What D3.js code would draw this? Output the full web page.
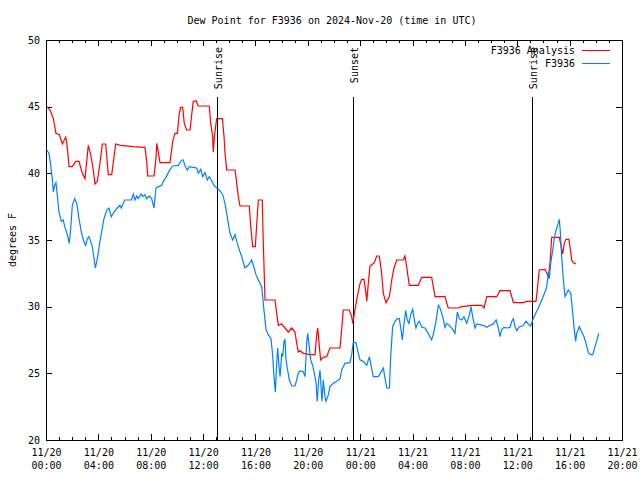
<!DOCTYPE html>
<html><head><meta charset="utf-8">
<script src="https://cdn.jsdelivr.net/npm/d3@7"></script>
<style>body{margin:0;background:#fff}svg{display:block}text{font-family:"DejaVu Sans Mono",monospace;font-size:10px;fill:#000}</style>
</head><body>
<script>
// Hours since 2024-11-20 00:00 UTC
const analysisHours = [0.05,0.31,0.56,0.76,1.02,1.25,1.50,1.58,1.76,2.01,2.27,2.52,2.77,2.98,3.11,3.23,3.41,3.61,3.74,3.92,4.12,4.30,4.56,4.76,5.02,5.32,5.71,6.67,7.56,7.69,7.77,8.25,8.40,8.46,8.71,9.47,9.68,9.85,10.03,10.18,10.29,10.44,10.56,10.75,11.0,11.13,11.25,11.46,11.63,12.47,12.58,12.73,12.78,12.86,12.99,13.04,13.47,13.60,13.67,13.80,14.44,14.57,14.69,14.82,15.53,15.64,15.79,15.99,16.10,16.22,16.52,16.60,16.73,17.49,17.62,17.75,18.0,18.51,18.77,19.02,19.15,19.27,19.40,19.66,20.17,20.55,20.68,20.76,20.88,20.98,21.18,21.44,21.69,22.46,22.59,22.71,23.17,23.35,23.43,23.60,23.78,23.99,24.12,24.29,24.44,24.50,24.62,24.75,24.96,25.08,25.26,25.46,25.64,25.77,25.97,26.23,26.41,26.58,26.79,27.29,27.42,27.55,27.75,28.44,28.70,29.46,29.72,30.48,30.66,30.73,31.50,31.75,32.52,33.28,33.46,33.67,34.43,34.68,35.45,35.70,36.46,36.72,37.43,37.53,37.68,38.12,38.37,38.50,38.63,39.21,39.34,39.47,39.59,39.72,39.95,40.16,40.28,40.49];
const analysisValues = [45.0,44.75,44.1,43.0,42.9,42.2,42.7,42.4,40.5,40.5,40.9,40.9,40.0,39.6,40.9,42.1,41.4,40.25,39.2,39.4,40.75,42.2,42.2,39.9,39.9,42.2,42.1,42.0,41.95,40.9,39.8,39.8,41.1,42.25,40.8,40.8,42.4,43.0,43.0,44.5,44.95,44.95,43.75,43.25,43.25,44.4,45.4,45.45,45.05,45.05,43.75,42.75,41.6,42.75,43.75,44.1,44.1,42.75,41.6,40.25,40.25,39.25,38.25,37.55,37.55,36.0,34.5,34.5,36.25,38.0,38.0,34.75,30.5,30.5,29.5,28.6,28.7,28.1,28.4,28.1,27.25,26.6,26.7,26.5,26.4,26.4,27.9,28.4,27.0,26.0,26.2,26.25,26.9,26.9,28.4,29.75,29.75,29.25,28.75,29.75,30.75,31.75,32.05,32.05,31.0,30.4,31.75,33.05,33.2,33.3,33.8,33.8,32.5,31.0,30.3,30.75,32.0,32.9,33.5,33.5,33.8,33.0,31.6,31.6,32.2,32.2,30.75,30.75,30.1,29.9,29.9,30.0,30.1,30.1,29.9,30.75,30.75,31.2,31.2,30.3,30.3,30.4,30.4,31.25,32.75,32.8,32.25,33.25,35.2,35.2,34.6,33.95,34.75,35.05,35.05,33.5,33.3,33.2];
const obsHours = [0.05,0.23,0.36,0.48,0.56,0.66,0.76,0.86,0.99,1.17,1.32,1.43,1.63,1.78,1.89,2.01,2.19,2.35,2.52,2.70,2.85,3.03,3.16,3.28,3.41,3.54,3.67,3.77,3.92,4.12,4.30,4.43,4.64,4.81,4.99,5.19,5.45,5.65,5.75,6.01,6.52,6.67,6.80,6.93,7.05,7.26,7.39,7.56,7.69,7.89,8.07,8.25,8.40,8.58,8.84,8.96,9.17,9.42,9.68,10.11,10.24,10.37,10.49,10.62,10.79,10.95,11.25,11.51,11.63,11.82,11.97,12.15,12.32,12.47,12.66,12.83,13.04,13.24,13.50,13.67,13.80,13.93,14.06,14.26,14.44,14.57,14.77,14.95,15.20,15.45,15.71,15.84,16.04,16.22,16.48,16.55,16.65,16.81,16.98,17.19,17.32,17.42,17.52,17.62,17.70,17.80,17.88,18.01,18.08,18.18,18.26,18.33,18.43,18.59,18.77,19.02,19.15,19.27,19.40,19.66,19.79,19.91,19.99,20.11,20.22,20.37,20.50,20.63,20.72,20.83,20.93,21.01,21.08,21.18,21.31,21.39,21.57,21.69,21.95,22.21,22.46,22.59,22.84,23.22,23.35,23.47,23.68,23.86,23.99,24.24,24.50,24.70,24.83,25.0,25.38,25.57,25.77,25.90,26.03,26.23,26.33,26.48,26.66,26.84,26.99,27.12,27.22,27.35,27.48,27.60,27.73,27.86,28.01,28.14,28.26,28.39,28.52,28.70,28.95,29.20,29.46,29.58,29.79,29.97,30.10,30.30,30.48,30.61,30.81,31.11,31.24,31.42,31.57,31.75,31.93,32.14,32.26,32.39,32.47,32.59,32.77,32.90,33.41,33.67,33.92,34.17,34.38,34.55,34.68,34.81,34.99,35.24,35.45,35.58,35.70,35.83,35.96,36.16,36.41,36.67,36.84,37.02,37.18,37.35,37.61,37.87,38.12,38.25,38.37,38.45,38.55,38.71,38.81,38.88,39.01,39.13,39.21,39.29,39.39,39.52,39.65,39.78,39.90,40.08,40.24,40.33,40.46,40.54,40.74,40.92,41.10,41.25,41.43,41.61,41.76,41.94,42.12,42.22];
const obsValues = [41.75,41.5,40.6,39.6,38.6,39.1,39.3,38.4,37.1,36.4,36.5,36.0,35.4,34.75,35.9,37.6,38.1,37.75,36.6,35.6,35.0,34.6,35.1,35.25,34.9,34.5,33.6,32.9,33.6,34.9,35.9,36.6,37.25,37.4,36.75,37.1,37.4,37.6,37.4,38.0,38.0,38.45,38.0,38.3,38.1,38.45,38.25,38.4,38.1,38.3,38.1,37.4,38.9,39.0,39.1,39.4,39.7,40.2,40.55,40.6,40.8,41.0,41.0,40.55,40.25,40.5,40.45,40.4,40.0,40.3,39.75,40.05,39.5,39.75,39.45,39.1,38.9,38.75,38.4,37.75,37.0,36.25,35.5,35.0,35.4,34.9,34.25,33.75,32.9,33.1,33.5,33.1,32.4,32.0,31.5,30.75,29.75,28.25,27.9,27.6,26.25,24.75,23.6,25.75,26.9,25.5,24.75,26.5,26.25,27.4,27.5,26.1,25.4,24.5,24.05,24.05,24.5,25.0,25.2,25.1,24.75,27.25,28.0,27.0,26.0,25.6,25.0,24.25,22.9,24.5,25.25,24.0,22.9,24.5,23.25,22.9,23.4,24.0,24.25,24.4,24.6,25.25,25.75,25.8,26.4,27.3,27.3,26.5,26.0,25.9,25.6,26.25,25.6,24.75,24.75,25.05,25.4,24.6,23.9,23.9,26.25,28.5,28.9,29.1,29.1,28.25,27.5,28.75,29.7,29.0,28.75,29.4,29.8,29.0,28.4,28.75,28.9,28.45,28.4,28.0,27.5,27.9,28.9,30.1,29.9,29.25,28.45,28.75,28.6,28.25,28.0,29.6,29.1,29.0,29.25,28.75,29.1,29.6,30.0,29.25,28.4,28.7,28.6,28.45,28.6,28.7,29.0,28.4,27.75,28.3,28.45,28.4,28.45,28.9,29.1,28.5,28.2,28.5,28.55,28.9,28.7,28.55,29.0,29.4,29.9,30.5,31.1,31.5,32.6,32.1,33.25,34.25,35.0,35.4,35.9,36.25,36.55,35.6,33.75,32.0,30.75,31.0,31.25,31.05,29.5,28.5,27.4,28.0,28.5,28.1,27.75,27.25,26.55,26.4,26.4,27.0,27.6,28.0];
const eventHours = [13.09, 23.47, 37.1];
const eventLabels = ["Sunrise", "Sunset", "Sunrise"];
const yTicks = [20,25,30,35,40,45,50];
const seriesNames = ["F3936 Analysis", "F3936"];
const seriesColors = ["#ff0000", "#0080ff"];
const titleText = "Dew Point for F3936 on 2024-Nov-20 (time in UTC)";

const W=640,H=480, L=46,R=622,T=40,B=440;
const t0 = Date.UTC(2024,10,20);
const toDate = h => new Date(t0 + h*3600000);
const x = d3.scaleUtc().domain([toDate(0), toDate(44)]).range([L,R]);
const y = d3.scaleLinear().domain([20,50]).range([B,T]);

const svg = d3.select("body").append("svg").attr("width",W).attr("height",H);

// axes / ticks
const majorTicks = d3.utcHour.every(4).range(toDate(0), toDate(44.01));
const minorTicks = d3.utcHour.every(1).range(toDate(0), toDate(44.01));
const bottomMinor = d3.axisBottom(x).tickValues(minorTicks).tickSize(-3).tickFormat("");
const topMinor = d3.axisTop(x).tickValues(minorTicks).tickSize(-3).tickFormat("");
const bottomMajor = d3.axisBottom(x).tickValues(majorTicks).tickSize(-6).tickPadding(9).tickFormat(d3.utcFormat("%m/%d"));
const topMajor = d3.axisTop(x).tickValues(majorTicks).tickSize(-6).tickFormat("");
const leftAx = d3.axisLeft(y).tickValues(yTicks).tickSize(-6).tickPadding(6).tickFormat(d3.format("d"));
const rightAx = d3.axisRight(y).tickValues(yTicks).tickSize(-6).tickFormat("");

function style(g){ g.select(".domain").remove(); g.selectAll("line").attr("stroke","#000").attr("shape-rendering","crispEdges"); g.selectAll("text").attr("font-family",null).attr("font-size",null); }
svg.append("g").attr("transform",`translate(0,${B})`).call(bottomMinor).call(style);
svg.append("g").attr("transform",`translate(0,${T})`).call(topMinor).call(style);
const bx = svg.append("g").attr("transform",`translate(0,${B})`).call(bottomMajor).call(style);
bx.selectAll(".tick text").each(function(d){
  const t=d3.select(this); const a=d3.utcFormat("%m/%d")(d), b=d3.utcFormat("%H:%M")(d);
  t.text(null).attr("y",9).attr("dy","0.71em");
  t.append("tspan").attr("x",0).text(a);
  t.append("tspan").attr("x",0).attr("dy","13px").text(b);
});
svg.append("g").attr("transform",`translate(0,${T})`).call(topMajor).call(style);
svg.append("g").attr("transform",`translate(${L},0)`).call(leftAx).call(style);
svg.append("g").attr("transform",`translate(${R},0)`).call(rightAx).call(style);

// frame
svg.append("rect").attr("x",L).attr("y",T).attr("width",R-L).attr("height",B-T)
  .attr("fill","none").attr("stroke","#000").attr("shape-rendering","crispEdges");

// event lines
eventHours.forEach((h,i)=>{
  const ex = Math.round(x(toDate(h)))+0.5;
  svg.append("line").attr("x1",ex).attr("x2",ex).attr("y1",97).attr("y2",B).attr("stroke","#000").attr("shape-rendering","crispEdges");
  svg.append("text").attr("transform",`translate(${ex+4},${47}) rotate(-90)`).attr("text-anchor","end").text(eventLabels[i]);
});

// series
const line = d3.line().x(d=>x(toDate(d[0]))).y(d=>y(d[1]));
const a = analysisHours.map((h,i)=>[h,analysisValues[i]]);
const o = obsHours.map((h,i)=>[h,obsValues[i]]);
svg.append("path").datum(a).attr("d",line).attr("fill","none").attr("stroke",seriesColors[0]).attr("stroke-width",1.2);
svg.append("path").datum(o).attr("d",line).attr("fill","none").attr("stroke",seriesColors[1]).attr("stroke-width",1.2);

// legend
seriesNames.forEach((n,i)=>{
  const ly = 50 + i*13;
  svg.append("text").attr("x",575).attr("y",ly).attr("dy","0.35em").attr("text-anchor","end").text(n);
  svg.append("line").attr("x1",582).attr("x2",610).attr("y1",ly+0.5).attr("y2",ly+0.5).attr("stroke",seriesColors[i]).attr("shape-rendering","crispEdges");
});

// title and y label
svg.append("text").attr("x",332).attr("y",20).attr("dy","0.35em").attr("text-anchor","middle").text(titleText);
svg.append("text").attr("transform",`translate(12,${(T+B)/2}) rotate(-90)`).attr("text-anchor","middle").attr("dy","0.35em").text("degrees F");
</script>
</body></html>
